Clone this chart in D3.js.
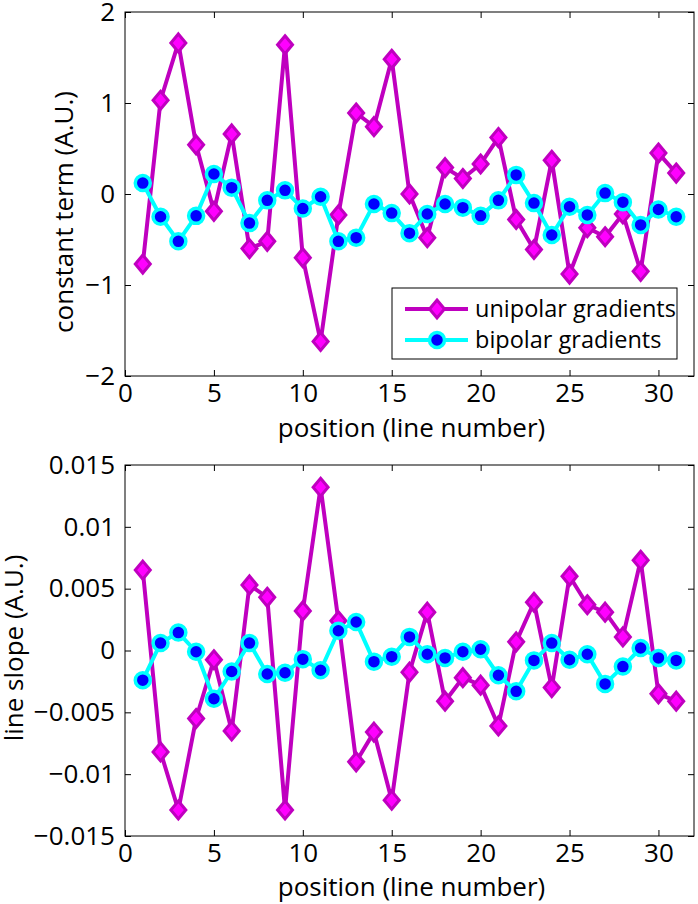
<!DOCTYPE html>
<html>
<head>
<meta charset="utf-8">
<script src="https://cdn.jsdelivr.net/npm/d3@7"></script>
<style>
  html, body { margin: 0; padding: 0; background: #fff; }
  svg { display: block; }
  text { font-family: "Open Sans", "Noto Sans", sans-serif; fill: #000; }
</style>
</head>
<body>
<script>
// ---------- data ----------
const positions = d3.range(1, 32);
const unipolarConst = [-0.77, 1.03, 1.66, 0.54, -0.19, 0.66, -0.60, -0.52, 1.64, -0.70,
  -1.62, -0.23, 0.89, 0.74, 1.48, 0.00, -0.48, 0.29, 0.17, 0.33,
  0.62, -0.28, -0.61, 0.37, -0.88, -0.37, -0.47, -0.22, -0.85, 0.45, 0.23];
const bipolarConst = [0.12, -0.25, -0.52, -0.24, 0.22, 0.07, -0.32, -0.07, 0.04, -0.16,
  -0.03, -0.52, -0.48, -0.11, -0.21, -0.43, -0.22, -0.11, -0.15, -0.24,
  -0.07, 0.21, -0.10, -0.45, -0.14, -0.23, 0.01, -0.09, -0.34, -0.17, -0.25];
const unipolarSlope = [0.0065, -0.0082, -0.0129, -0.0055, -0.00075, -0.0065, 0.0053, 0.0043, -0.0129, 0.0032,
  0.0132, 0.0024, -0.0090, -0.0066, -0.0121, -0.00175, 0.0031, -0.0041, -0.0022, -0.0028,
  -0.0061, 0.0007, 0.0039, -0.0030, 0.0060, 0.0037, 0.0031, 0.0011, 0.0073, -0.0035, -0.0041];
const bipolarSlope = [-0.0024, 0.0006, 0.00145, -0.0001, -0.0039, -0.0017, 0.0006, -0.0019, -0.0018, -0.0007,
  -0.0016, 0.0016, 0.0023, -0.0009, -0.0005, 0.0011, -0.0003, -0.0006, -0.0001, 0.0001,
  -0.0020, -0.0033, -0.0008, 0.0006, -0.00075, -0.0003, -0.0027, -0.0013, 0.0002, -0.0006, -0.0008];
const xTicks = [0, 5, 10, 15, 20, 25, 30];
const constTicks = [-2, -1, 0, 1, 2];
const slopeTicks = [-0.015, -0.01, -0.005, 0, 0.005, 0.01, 0.015];
const slopeTickLabels = ["\u22120.015", "\u22120.01", "\u22120.005", "0", "0.005", "0.01", "0.015"];
const seriesNames = ["unipolar gradients", "bipolar gradients"];

// ---------- style ----------
const W = 698, H = 904;
const uniLine = "#bf00bf", uniFill = "#ff00ff";
const biLine = "#00ffff", biFill = "#0000ff";
const fs = 26;
const diamond = "M0,-9L7.5,0L0,9L-7.5,0Z";

const svg = d3.select("body").append("svg").attr("width", W).attr("height", H);

function fmtMinus(v) { return String(v).replace("-", "\u2212"); }

function drawPanel(cfg) {
  const x = d3.scaleLinear().domain([0, 32]).range([125, 694]);
  const y = d3.scaleLinear().domain(cfg.yDomain).range([cfg.bottom, cfg.top]);
  const g = svg.append("g");

  const tick = 6;
  const xb = d3.axisBottom(x).tickValues(xTicks).tickSizeInner(-tick).tickSizeOuter(0).tickPadding(8);
  const xt = d3.axisTop(x).tickValues(xTicks).tickSizeInner(-tick).tickSizeOuter(0).tickFormat("");
  const yl = d3.axisLeft(y).tickValues(cfg.yTicks).tickSizeInner(-tick).tickSizeOuter(0).tickPadding(10)
    .tickFormat((d, i) => cfg.yLabels[i]);
  const yr = d3.axisRight(y).tickValues(cfg.yTicks).tickSizeInner(-tick).tickSizeOuter(0).tickFormat("");

  const gxb = g.append("g").attr("transform", `translate(0,${cfg.bottom})`).call(xb);
  const gxt = g.append("g").attr("transform", `translate(0,${cfg.top})`).call(xt);
  const gyl = g.append("g").attr("transform", `translate(125,0)`).call(yl);
  const gyr = g.append("g").attr("transform", `translate(694,0)`).call(yr);
  [gxb, gxt, gyl, gyr].forEach(a => {
    a.selectAll("path.domain").remove();
    a.selectAll("line").attr("stroke", "#000").attr("stroke-width", 1);
    a.selectAll("text").attr("font-size", fs).attr("font-family", '"Open Sans", sans-serif').attr("fill", "#000");
  });
  gxb.selectAll("text").attr("dy", "0.71em");
  g.append("rect").attr("x", 125).attr("y", cfg.top).attr("width", 694 - 125).attr("height", cfg.bottom - cfg.top)
    .attr("fill", "none").attr("stroke", "#000").attr("stroke-width", 1);

  g.append("text").attr("x", (125 + 694) / 2 + 2).attr("y", cfg.xLabelY).attr("text-anchor", "middle")
    .attr("font-size", fs).text("position (line number)");
  g.append("text").attr("transform", `translate(${cfg.yLabelX},${cfg.yLabelCY}) rotate(-90)`)
    .attr("text-anchor", "middle").attr("font-size", fs).text(cfg.yTitle);

  const line = d3.line().x((d, i) => x(positions[i])).y(d => y(d));

  g.append("path").datum(cfg.uni).attr("d", line).attr("fill", "none")
    .attr("stroke", uniLine).attr("stroke-width", 4).attr("stroke-linejoin", "round");
  g.selectAll("path.dia").data(cfg.uni).enter().append("path").attr("class", "dia")
    .attr("d", diamond)
    .attr("transform", (d, i) => `translate(${x(positions[i])},${y(d)})`)
    .attr("fill", uniFill).attr("stroke", uniLine).attr("stroke-width", 3);

  g.append("path").datum(cfg.bi).attr("d", line).attr("fill", "none")
    .attr("stroke", biLine).attr("stroke-width", 4).attr("stroke-linejoin", "round");
  g.selectAll("circle.bi").data(cfg.bi).enter().append("circle").attr("class", "bi")
    .attr("cx", (d, i) => x(positions[i])).attr("cy", d => y(d)).attr("r", 7.5)
    .attr("fill", biFill).attr("stroke", biLine).attr("stroke-width", 3.5);
}

drawPanel({
  top: 12, bottom: 376, yDomain: [-2, 2], yTicks: constTicks,
  yLabels: constTicks.map(fmtMinus), uni: unipolarConst, bi: bipolarConst,
  xLabelY: 437, yLabelX: 73, yLabelCY: 212, yTitle: "constant term (A.U.)"
});
drawPanel({
  top: 465, bottom: 836, yDomain: [-0.015, 0.015], yTicks: slopeTicks,
  yLabels: slopeTickLabels, uni: unipolarSlope, bi: bipolarSlope,
  xLabelY: 896, yLabelX: 23, yLabelCY: 648, yTitle: "line slope (A.U.)"
});

// legend
const lg = svg.append("g");
lg.append("rect").attr("x", 392).attr("y", 288).attr("width", 285).attr("height", 71)
  .attr("fill", "#fff").attr("stroke", "#000").attr("stroke-width", 1);
const rows = [
  { name: seriesNames[0], y: 309, type: "uni" },
  { name: seriesNames[1], y: 340, type: "bi" }
];
rows.forEach(r => {
  lg.append("line").attr("x1", 405).attr("x2", 468).attr("y1", r.y).attr("y2", r.y)
    .attr("stroke", r.type === "uni" ? uniLine : biLine).attr("stroke-width", 4);
  if (r.type === "uni") {
    lg.append("path").attr("d", diamond).attr("transform", `translate(437,${r.y})`)
      .attr("fill", uniFill).attr("stroke", uniLine).attr("stroke-width", 3);
  } else {
    lg.append("circle").attr("cx", 437).attr("cy", r.y).attr("r", 7.5)
      .attr("fill", biFill).attr("stroke", biLine).attr("stroke-width", 3.5);
  }
  lg.append("text").attr("x", 475).attr("y", r.y).attr("dy", "0.35em").attr("font-size", 23.5).text(r.name);
});
</script>
</body>
</html>
